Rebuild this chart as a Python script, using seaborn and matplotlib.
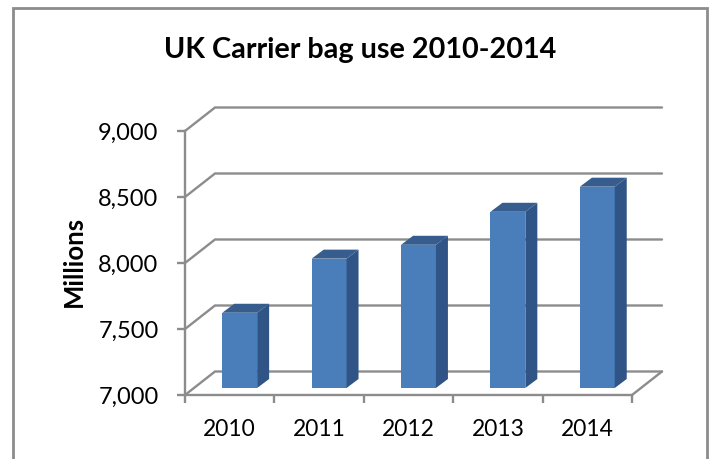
import numpy as np
import pandas as pd
import matplotlib
matplotlib.use("Agg")
import matplotlib.pyplot as plt
import seaborn as sns
from matplotlib.patches import Polygon
from matplotlib.lines import Line2D

years = ["2010", "2011", "2012", "2013", "2014"]
bag_use = [7570, 7980, 8085, 8335, 8525]
y_ticks = [7000, 7500, 8000, 8500, 9000]

W, H = 711, 459
GREY = "#8c8c8c"
FRONT = "#4a7ebb"
SIDE = "#2f5485"
TOP = "#375d8f"

sns.set_theme(style="white")
plt.rcParams["font.family"] = ["Lato", "DejaVu Sans"]

fig = plt.figure(figsize=(W / 100, H / 100), dpi=100, facecolor="white")
# plot box in pixels: x 185-632, y 131-395
ax = fig.add_axes([185 / W, 1 - 395 / H, (632 - 185) / W, (395 - 131) / H])
ax.patch.set_alpha(0)

df = pd.DataFrame({"year": years, "use": bag_use})
sns.barplot(data=df, x="year", y="use", color=FRONT, saturation=1, width=0.39, ax=ax, zorder=3)

ax.set_xlim(-0.5, len(years) - 0.5)
ax.set_ylim(y_ticks[0], y_ticks[-1])

# pixels to data units
px_x = len(years) / (632 - 185)
px_y = (y_ticks[-1] - y_ticks[0]) / (395 - 131)

# back wall gridlines and the floor
wall_dx, wall_dy = 30 * px_x, 23.5 * px_y
x_left = -0.5
x_right = len(years) - 0.5
for t in y_ticks:
    ax.plot([x_left, x_left + wall_dx, x_right + wall_dx],
            [t, t + wall_dy, t + wall_dy],
            color=GREY, lw=1.7, clip_on=False, zorder=1, solid_joinstyle="miter")
ax.plot([x_right, x_right + wall_dx], [y_ticks[0], y_ticks[0] + wall_dy],
        color=GREY, lw=1.7, clip_on=False, zorder=1)

# 3d faces of the bars
side_dx, side_dy = 12 * px_x, 9 * px_y
lift_x, lift_y = 10 * px_x, 7 * px_y
for p in ax.patches:
    value = p.get_height()
    p.set_x(p.get_x() + lift_x)
    p.set_y(y_ticks[0] + lift_y)
    p.set_height(value - y_ticks[0])
    p.set_linewidth(0)
    x0, x1 = p.get_x(), p.get_x() + p.get_width()
    y0, y1 = p.get_y(), p.get_y() + p.get_height()
    ax.add_patch(Polygon([(x1, y0), (x1 + side_dx, y0 + side_dy), (x1 + side_dx, y1 + side_dy), (x1, y1)],
                         closed=True, fc=SIDE, ec="none", zorder=3, clip_on=False))
    ax.add_patch(Polygon([(x0, y1), (x1, y1), (x1 + side_dx, y1 + side_dy), (x0 + side_dx, y1 + side_dy)],
                         closed=True, fc=TOP, ec="none", zorder=3, clip_on=False))

sns.despine(ax=ax)
for s in ["left", "bottom"]:
    ax.spines[s].set_color(GREY)
    ax.spines[s].set_linewidth(1.7)
    ax.spines[s].set_zorder(2)

ax.set_yticks(y_ticks, labels=[f"{t:,}" for t in y_ticks])
ax.set_xticks(np.arange(len(years) + 1) - 0.5, labels=[])
ax.set_xticks(np.arange(len(years)), labels=years, minor=True)
ax.tick_params(axis="y", which="major", left=True, length=6, width=1.7, color=GREY,
               labelsize=17, labelcolor="black", pad=13)
ax.tick_params(axis="x", which="major", bottom=True, length=6, width=1.7, color=GREY)
ax.tick_params(axis="x", which="minor", bottom=False, length=0, labelsize=16.4, labelcolor="black", pad=17)

ax.set_xlabel("")
ax.set_ylabel("Millions", fontsize=18.5, fontweight="bold", color="black")
ax.yaxis.set_label_coords((86 - 185) / (632 - 185), 0.506)

fig.text(360 / W, 1 - 50 / H, "UK Carrier bag use 2010-2014", fontsize=20.7, fontweight="bold",
         color="black", ha="center", va="center")

# chart frame, cut off by the bottom of the image
fig.add_artist(Line2D([12.5 / W, 12.5 / W, 706.5 / W, 706.5 / W],
                      [0, 1 - 7.5 / H, 1 - 7.5 / H, 0],
                      transform=fig.transFigure, color=GREY, lw=2, solid_joinstyle="miter"))

fig.savefig("out.png", dpi=100)
